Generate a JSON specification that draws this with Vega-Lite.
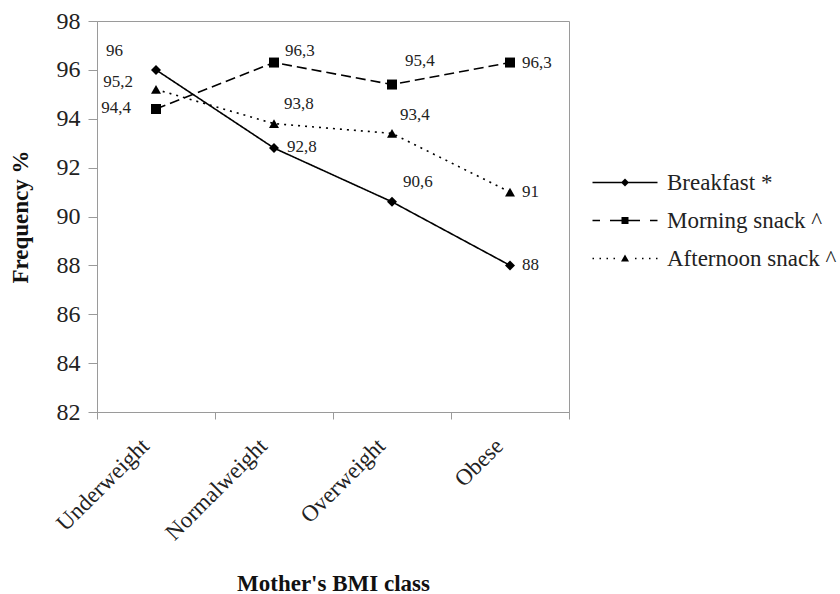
{
  "$schema": "https://vega.github.io/schema/vega-lite/v6.json",
  "autosize": {"type": "none"},
  "padding": {"left": 97, "top": 21, "right": 271, "bottom": 182},
  "width": 472,
  "height": 391,
  "background": "white",
  "config": {
    "locale": {"number": {"decimal": ",", "thousands": ".", "grouping": [3], "currency": ["", " €"]}},
    "view": {"stroke": "#9a9a9a", "strokeWidth": 1},
    "font": "Liberation Serif",
    "axis": {"grid": false, "domainColor": "#9a9a9a", "tickColor": "#9a9a9a", "labelFont": "Liberation Serif", "titleFont": "Liberation Serif", "labelColor": "#222", "titleColor": "#111"},
    "legend": {"labelFont": "Liberation Serif", "titleFont": "Liberation Serif"}
  },
  "data": {"values": [
    {"bmi": "Underweight", "series": "Breakfast *", "value": 96},
    {"bmi": "Normalweight", "series": "Breakfast *", "value": 92.8},
    {"bmi": "Overweight", "series": "Breakfast *", "value": 90.6},
    {"bmi": "Obese", "series": "Breakfast *", "value": 88},
    {"bmi": "Underweight", "series": "Morning snack ^", "value": 94.4},
    {"bmi": "Normalweight", "series": "Morning snack ^", "value": 96.3},
    {"bmi": "Overweight", "series": "Morning snack ^", "value": 95.4},
    {"bmi": "Obese", "series": "Morning snack ^", "value": 96.3},
    {"bmi": "Underweight", "series": "Afternoon snack ^", "value": 95.2},
    {"bmi": "Normalweight", "series": "Afternoon snack ^", "value": 93.8},
    {"bmi": "Overweight", "series": "Afternoon snack ^", "value": 93.4},
    {"bmi": "Obese", "series": "Afternoon snack ^", "value": 91}
  ]},
  "encoding": {
    "x": {"field": "bmi", "type": "nominal", "sort": ["Underweight", "Normalweight", "Overweight", "Obese"],
      "scale": {"type": "band", "paddingInner": 0, "paddingOuter": 0},
      "axis": {"title": "Mother's BMI class", "tickBand": "extent", "tickSize": 7, "labelAngle": -45, "labelAlign": "right", "labelBaseline": "middle", "labelPadding": 23, "labelOffset": -11, "labelFont": "Liberation Serif", "labelFontSize": 23, "titleFont": "Liberation Serif", "titleFontSize": 23, "titleFontWeight": "bold", "titleY": 171, "titleBaseline": "middle"}},
    "y": {"field": "value", "type": "quantitative",
      "scale": {"domain": [82, 98], "nice": false, "zero": false},
      "axis": {"title": "Frequency %", "values": [82, 84, 86, 88, 90, 92, 94, 96, 98], "tickSize": 9, "labelPadding": 8, "labelFont": "Liberation Serif", "labelFontSize": 24, "titleFont": "Liberation Serif", "titleFontSize": 23, "titleFontWeight": "bold", "titleX": -77, "titleY": 195.5, "titleAlign": "center", "titleBaseline": "middle"}}
  },
  "layer": [
    {
      "mark": {"type": "line", "color": "black", "strokeWidth": 1.6},
      "encoding": {
        "detail": {"field": "series", "type": "nominal"},
        "strokeDash": {"condition": [
          {"test": "datum.series === 'Morning snack ^'", "value": [10, 5]},
          {"test": "datum.series === 'Afternoon snack ^'", "value": [2, 5]}
        ], "value": [1, 0]}
      }
    },
    {
      "mark": {"type": "point", "filled": true, "color": "black", "size": 100, "opacity": 1},
      "encoding": {
        "shape": {"condition": [
          {"test": "datum.series === 'Breakfast *'", "value": "diamond"},
          {"test": "datum.series === 'Morning snack ^'", "value": "square"}
        ], "value": "triangle-up"}
      }
    },
    {
      "mark": {"type": "point", "filled": true, "color": "black", "opacity": 0},
      "encoding": {
        "shape": {"field": "series", "type": "nominal",
          "scale": {"domain": ["Breakfast *", "Morning snack ^", "Afternoon snack ^"], "range": [
            "M-1,-0.15L12,-0.15L12,0.15L-1,0.15ZM5.5,-0.8L6.3,0L5.5,0.8L4.7,0Z",
            "M-1,-0.15L0.5,-0.15L0.5,0.15L-1,0.15ZM2.5,-0.15L8.5,-0.15L8.5,0.15L2.5,0.15ZM10.5,-0.15L12,-0.15L12,0.15L10.5,0.15ZM4.8,-0.7L6.2,-0.7L6.2,0.7L4.8,0.7Z",
            "M-1,-0.15L-0.7,-0.15L-0.7,0.15L-1,0.15ZM0.4,-0.15L0.7,-0.15L0.7,0.15L0.4,0.15ZM1.8,-0.15L2.1,-0.15L2.1,0.15L1.8,0.15ZM3.2,-0.15L3.5,-0.15L3.5,0.15L3.2,0.15ZM7.5,-0.15L7.8,-0.15L7.8,0.15L7.5,0.15ZM8.9,-0.15L9.2,-0.15L9.2,0.15L8.9,0.15ZM10.3,-0.15L10.6,-0.15L10.6,0.15L10.3,0.15ZM11.7,-0.15L12,-0.15L12,0.15L11.7,0.15ZM5.5,-0.8L6.3,0.6L4.7,0.6Z"
          ]},
          "legend": {"title": null, "orient": "none", "legendX": 489, "legendY": 150, "padding": 0, "labelFont": "Liberation Serif", "labelFontSize": 23, "labelColor": "#222", "symbolSize": 100, "symbolOpacity": 1, "symbolFillColor": "black", "symbolStrokeColor": "black", "symbolStrokeWidth": 0.5, "rowPadding": 14, "labelOffset": 58, "labelLimit": 300}
        }
      }
    },
    {"transform": [{"filter": "datum.bmi === 'Underweight' && datum.series === 'Breakfast *'"}],
     "mark": {"type": "text", "align": "right", "baseline": "middle", "dx": -33, "dy": -19, "fontSize": 17, "color": "#222", "font": "Liberation Serif"},
     "encoding": {"text": {"field": "value", "type": "quantitative", "format": ".1~f"}}},
    {"transform": [{"filter": "datum.bmi === 'Underweight' && datum.series === 'Afternoon snack ^'"}],
     "mark": {"type": "text", "align": "right", "baseline": "middle", "dx": -23, "dy": -7, "fontSize": 17, "color": "#222", "font": "Liberation Serif"},
     "encoding": {"text": {"field": "value", "type": "quantitative", "format": ".1~f"}}},
    {"transform": [{"filter": "datum.bmi === 'Underweight' && datum.series === 'Morning snack ^'"}],
     "mark": {"type": "text", "align": "right", "baseline": "middle", "dx": -25, "dy": -1, "fontSize": 17, "color": "#222", "font": "Liberation Serif"},
     "encoding": {"text": {"field": "value", "type": "quantitative", "format": ".1~f"}}},
    {"transform": [{"filter": "datum.bmi === 'Normalweight' && datum.series === 'Breakfast *'"}],
     "mark": {"type": "text", "align": "left", "baseline": "middle", "dx": 13, "dy": -1, "fontSize": 17, "color": "#222", "font": "Liberation Serif"},
     "encoding": {"text": {"field": "value", "type": "quantitative", "format": ".1~f"}}},
    {"transform": [{"filter": "datum.bmi === 'Normalweight' && datum.series === 'Morning snack ^'"}],
     "mark": {"type": "text", "align": "left", "baseline": "middle", "dx": 11, "dy": -12, "fontSize": 17, "color": "#222", "font": "Liberation Serif"},
     "encoding": {"text": {"field": "value", "type": "quantitative", "format": ".1~f"}}},
    {"transform": [{"filter": "datum.bmi === 'Normalweight' && datum.series === 'Afternoon snack ^'"}],
     "mark": {"type": "text", "align": "left", "baseline": "middle", "dx": 10, "dy": -20, "fontSize": 17, "color": "#222", "font": "Liberation Serif"},
     "encoding": {"text": {"field": "value", "type": "quantitative", "format": ".1~f"}}},
    {"transform": [{"filter": "datum.bmi === 'Overweight' && datum.series === 'Morning snack ^'"}],
     "mark": {"type": "text", "align": "left", "baseline": "middle", "dx": 13, "dy": -24, "fontSize": 17, "color": "#222", "font": "Liberation Serif"},
     "encoding": {"text": {"field": "value", "type": "quantitative", "format": ".1~f"}}},
    {"transform": [{"filter": "datum.bmi === 'Overweight' && datum.series === 'Afternoon snack ^'"}],
     "mark": {"type": "text", "align": "left", "baseline": "middle", "dx": 8, "dy": -18, "fontSize": 17, "color": "#222", "font": "Liberation Serif"},
     "encoding": {"text": {"field": "value", "type": "quantitative", "format": ".1~f"}}},
    {"transform": [{"filter": "datum.bmi === 'Overweight' && datum.series === 'Breakfast *'"}],
     "mark": {"type": "text", "align": "left", "baseline": "middle", "dx": 11, "dy": -20, "fontSize": 17, "color": "#222", "font": "Liberation Serif"},
     "encoding": {"text": {"field": "value", "type": "quantitative", "format": ".1~f"}}},
    {"transform": [{"filter": "datum.bmi === 'Obese'"}],
     "mark": {"type": "text", "align": "left", "baseline": "middle", "dx": 12, "dy": 0, "fontSize": 17, "color": "#222", "font": "Liberation Serif"},
     "encoding": {"text": {"field": "value", "type": "quantitative", "format": ".1~f"}}}
  ]
}
